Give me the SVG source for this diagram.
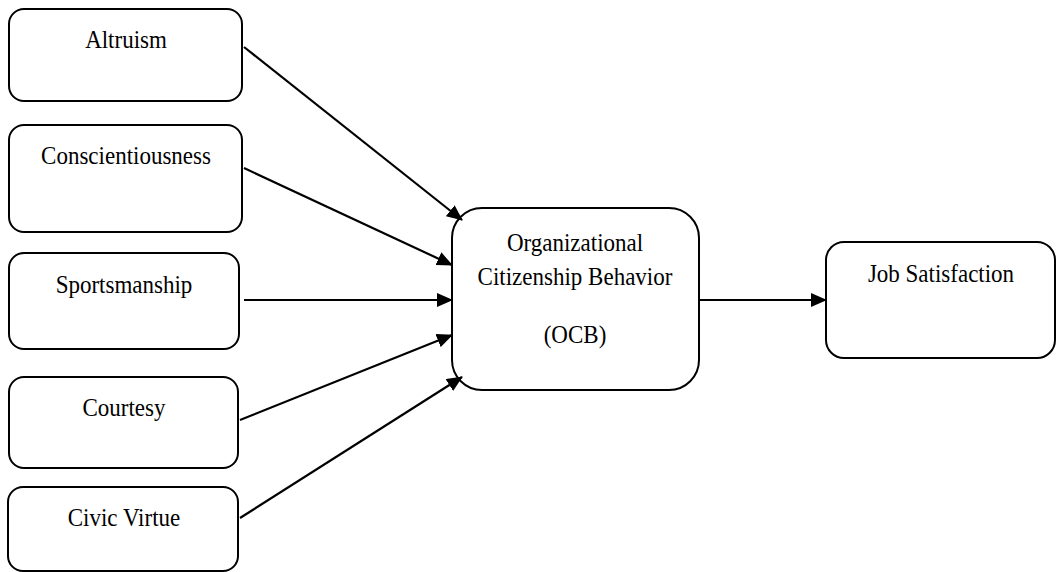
<svg xmlns="http://www.w3.org/2000/svg" width="1056" height="572" viewBox="0 0 1056 572">
<style>
.box{fill:#fff;stroke:#000;stroke-width:2}
.t{font-family:"Liberation Serif","Times New Roman",serif;font-size:23px;fill:#000;text-anchor:middle}
.c{stroke:#000;stroke-width:2.2;fill:none;marker-end:url(#ah)}
</style>
<defs>
<marker id="ah" markerWidth="16" markerHeight="14" refX="15" refY="7" orient="auto" markerUnits="userSpaceOnUse">
<path d="M0,0 L16,7 L0,14 Z" fill="#000"/>
</marker>
</defs>
<rect width="1056" height="572" fill="#fff"/>
<g id="altruism"><rect class="box" x="9" y="9" width="233" height="92" rx="15"/><text class="t" transform="translate(126,48) scale(1,1.13)">Altruism</text></g>
<g id="conscientiousness"><rect class="box" x="9" y="125" width="233" height="107" rx="15"/><text class="t" transform="translate(126,164) scale(1,1.13)">Conscientiousness</text></g>
<g id="sportsmanship"><rect class="box" x="9" y="253" width="230" height="96" rx="15"/><text class="t" transform="translate(124,293) scale(1,1.13)">Sportsmanship</text></g>
<g id="courtesy"><rect class="box" x="9" y="377" width="229" height="91" rx="15"/><text class="t" transform="translate(124,416) scale(1,1.13)">Courtesy</text></g>
<g id="civic"><rect class="box" x="8" y="487" width="230" height="84" rx="15"/><text class="t" transform="translate(124,526) scale(1,1.13)">Civic Virtue</text></g>
<g id="ocb"><rect class="box" x="452" y="208" width="247" height="182" rx="30"/><text class="t" transform="translate(575,251) scale(1,1.13)">Organizational</text><text class="t" transform="translate(575,285) scale(1,1.13)">Citizenship Behavior</text><text class="t" transform="translate(575,343) scale(1,1.13)">(OCB)</text></g>
<g id="job"><rect class="box" x="826" y="242" width="229" height="116" rx="18"/><text class="t" transform="translate(941,282) scale(1,1.13)">Job Satisfaction</text></g>
<g id="connectors">
<line class="c" x1="244" y1="47" x2="462" y2="220"/>
<line class="c" x1="244" y1="168" x2="452" y2="265"/>
<line class="c" x1="244" y1="300" x2="452" y2="300"/>
<line class="c" x1="240" y1="420" x2="452" y2="335"/>
<line class="c" x1="240" y1="518" x2="462" y2="377"/>
<line class="c" x1="699" y1="300" x2="826" y2="300"/>
</g>
</svg>
